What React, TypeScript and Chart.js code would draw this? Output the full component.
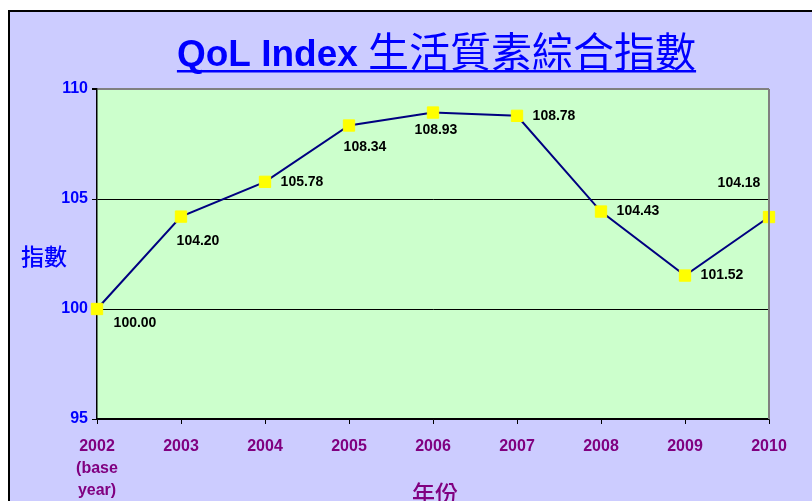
import React, { useEffect, useRef } from "react";
import { Chart, registerables } from "chart.js";

Chart.register(...registerables);

const years: (string | string[])[] = [["2002", "(base", "year)"], "2003", "2004", "2005", "2006", "2007", "2008", "2009", "2010"];
const qolIndex: number[] = [100.0, 104.2, 105.78, 108.34, 108.93, 108.78, 104.43, 101.52, 104.18];
const yTicks: number[] = [95, 100, 105, 110];
const titleLatin = "QoL Index ";
const titleCjk = "生活質素綜合指數";
const yTitle = "指數";
const xTitle = "年份";

// label offsets (style only)
const labelOffsets: [number, number][] = [
  [38, 14], [17, 25], [37, 0], [16, 22], [3, 18], [37, 0], [37, 0], [37, 0], [-30, -34],
];

const BLUE = "#0000FF";
const PURPLE = "#800080";

export default function App() {
  const ref = useRef<HTMLCanvasElement | null>(null);
  useEffect(() => {
    if (!ref.current) return;
    const decor = {
      id: "decor",
      beforeDraw(chart: any) {
        const { ctx, chartArea: a } = chart;
        ctx.save();
        ctx.fillStyle = "#CCFFCC";
        ctx.fillRect(a.left, a.top, a.right - a.left, a.bottom - a.top);
        ctx.restore();
      },
      afterDatasetsDraw(chart: any) {
        const { ctx, chartArea: a } = chart;
        ctx.save();
        // right border gray
        ctx.strokeStyle = "#808080";
        ctx.lineWidth = 2;
        ctx.beginPath();
        ctx.moveTo(a.right, a.top);
        ctx.lineTo(a.right, a.bottom);
        ctx.stroke();
        // data labels
        const meta = chart.getDatasetMeta(0);
        ctx.fillStyle = "#000";
        ctx.font = "bold 14px 'Liberation Sans', Arial, sans-serif";
        ctx.textAlign = "center";
        ctx.textBaseline = "middle";
        meta.data.forEach((pt: any, i: number) => {
          const [dx, dy] = labelOffsets[i];
          ctx.fillText(qolIndex[i].toFixed(2), pt.x + dx, pt.y + dy);
        });
        // title
        const latinFont = "bold 37px 'Liberation Sans', Arial, sans-serif";
        const cjkFont = "400 41px 'Noto Sans CJK TC', sans-serif";
        ctx.font = latinFont;
        const w1 = ctx.measureText(titleLatin).width;
        ctx.font = cjkFont;
        const w2 = ctx.measureText(titleCjk).width;
        const cx = 436.5;
        const x0 = cx - (w1 + w2) / 2;
        const base = 66;
        ctx.textAlign = "left";
        ctx.textBaseline = "alphabetic";
        ctx.fillStyle = BLUE;
        ctx.font = latinFont;
        ctx.fillText(titleLatin, x0, base);
        ctx.font = cjkFont;
        ctx.fillText(titleCjk, x0 + w1, base + 1);
        ctx.fillRect(x0, 70, w1 + w2, 2.5);
        // axis titles
        ctx.textAlign = "center";
        ctx.textBaseline = "middle";
        ctx.font = "500 23px 'Noto Sans CJK TC', sans-serif";
        ctx.fillStyle = BLUE;
        ctx.fillText(yTitle, 44, 256);
        ctx.fillStyle = PURPLE;
        ctx.fillText(xTitle, 435, 493);
        ctx.restore();
      },
    };
    const chart = new Chart(ref.current, {
      type: "line",
      data: {
        labels: years,
        datasets: [
          {
            data: qolIndex,
            borderColor: "#000080",
            borderWidth: 2,
            pointStyle: "rect",
            pointRadius: 8,
            pointBackgroundColor: "#FFFF00",
            pointBorderColor: "#FFFF00",
            pointBorderWidth: 1,
            tension: 0,
            clip: false as any,
          },
        ],
      },
      options: {
        animation: false,
        responsive: false,
        devicePixelRatio: 1,
        layout: { padding: { left: 0, top: 89, right: 43, bottom: 0 } },
        plugins: { legend: { display: false }, tooltip: { enabled: false }, title: { display: false } },
        scales: {
          x: {
            type: "category",
            offset: false,
            grid: { drawOnChartArea: false, drawTicks: true, tickLength: 5, color: "#000", tickColor: "#000" },
            border: { color: "#000", width: 1.5 },
            ticks: {
              color: PURPLE,
              font: { family: "'Liberation Sans', Arial, sans-serif", size: 16, weight: "bold", lineHeight: 1.4 },
              padding: 11,
              maxRotation: 0,
              autoSkip: false,
            },
            afterFit: (s: any) => { s.height = 82; },
          },
          y: {
            min: 95,
            max: 110,
            afterBuildTicks: (s: any) => { s.ticks = yTicks.map((v) => ({ value: v })); },
            grid: {
              tickLength: 5,
              color: (c: any) => (c.tick && c.tick.value === 110 ? "#808080" : "#000"),
              lineWidth: (c: any) => (c.tick && c.tick.value === 110 ? 2 : 1),
              tickColor: "#000",
            },
            border: { color: "#000", width: 1.5 },
            ticks: {
              color: BLUE,
              font: { family: "'Liberation Sans', Arial, sans-serif", size: 16, weight: "bold" },
              padding: 4,
            },
            afterFit: (s: any) => { s.width = 97; },
          },
        },
      },
      plugins: [decor],
    });
    return () => chart.destroy();
  }, []);
  return (
    <div style={{ position: "fixed", left: 0, top: 0, width: 812, height: 501, background: "#fff", overflow: "hidden" }}>
      <div style={{ position: "absolute", left: 8, top: 10, width: 830, height: 520, background: "#CCCCFF", border: "2px solid #000" }} />
      <canvas ref={ref} width={812} height={501} style={{ position: "absolute", left: 0, top: 0, width: 812, height: 501 }} />
    </div>
  );
}
